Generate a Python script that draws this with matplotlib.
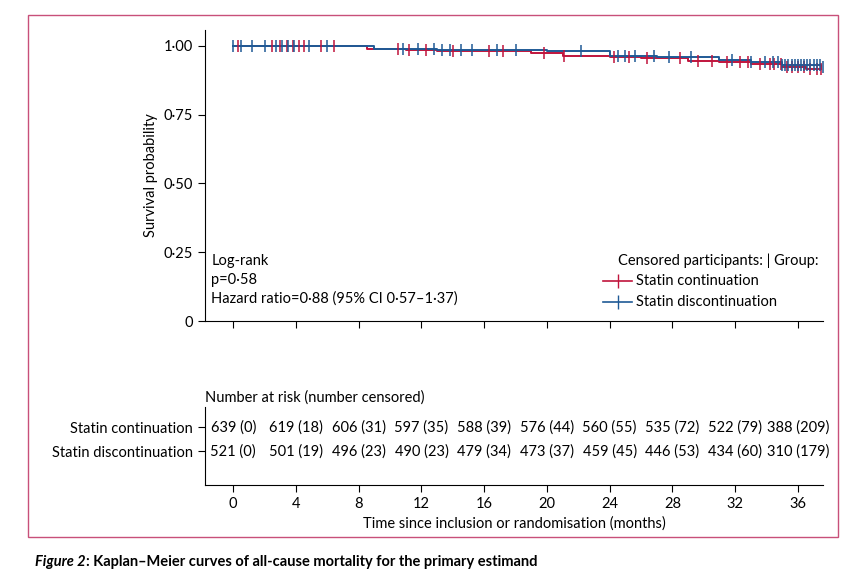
import matplotlib.pyplot as plt
from matplotlib.patches import Rectangle

plt.rcParams['font.family'] = ['Lato', 'DejaVu Sans']
plt.rcParams['font.size'] = 10.5

# survival steps (time, survival)
cont_t = [0, 8.5, 11, 13, 19, 21, 24, 26, 29, 31, 33, 35, 36.5, 37.5]
cont_s = [1.0, 0.99, 0.985, 0.98, 0.975, 0.965, 0.96, 0.955, 0.945, 0.94, 0.935, 0.925, 0.915, 0.915]
disc_t = [0, 9, 13, 20, 24, 27, 31, 33, 35, 37.5]
disc_s = [1.0, 0.99, 0.985, 0.98, 0.965, 0.96, 0.95, 0.94, 0.93, 0.925]

# censoring times
cont_cens = [0.3, 2.5, 3.0, 3.4, 3.8, 4.2, 4.5, 5.6, 6.4, 10.5, 11.2, 12.3, 14.0, 16.3, 17.2, 19.8,
             21.1, 24.3, 25.2, 26.4, 28.5, 29.6, 30.5, 31.5, 32.3, 32.8, 33.6, 34.2, 34.5, 34.9,
             35.3, 35.6, 36.0, 36.4, 36.8, 37.2, 37.5]
disc_cens = [0.0, 0.5, 1.2, 2.0, 2.7, 3.1, 3.5, 3.9, 4.8, 6.0, 10.8, 11.8, 12.8, 13.3, 13.8, 14.5,
             15.2, 16.8, 18.0, 22.2, 24.5, 25.0, 25.6, 26.8, 27.8, 29.2, 31.8, 33.0, 33.9, 34.4,
             34.7, 35.0, 35.2, 35.4, 35.6, 35.8, 36.0, 36.2, 36.4, 36.6, 36.8, 37.0, 37.2, 37.4, 37.6]

months = [0, 4, 8, 12, 16, 20, 24, 28, 32, 36]
risk_cont = ['639 (0)', '619 (18)', '606 (31)', '597 (35)', '588 (39)', '576 (44)', '560 (55)',
             '535 (72)', '522 (79)', '388 (209)']
risk_disc = ['521 (0)', '501 (19)', '496 (23)', '490 (23)', '479 (34)', '473 (37)', '459 (45)',
             '446 (53)', '434 (60)', '310 (179)']

red = '#c0143c'
blue = '#1f5a96'

def surv_at(ts, ss, t):
    v = ss[0]
    for a, b in zip(ts, ss):
        if a <= t:
            v = b
    return v

fig = plt.figure(figsize=(8.62, 5.8), dpi=100)
fig.patches.append(Rectangle((28/862, 1-537/580), 810/862, 522/580, transform=fig.transFigure,
                             fill=False, edgecolor='#c8507a', linewidth=1))

ax = fig.add_axes([205/862, 1-321/580, 618/862, 291/580])
ax.step(cont_t, cont_s, where='post', color=red, lw=1.4)
ax.step(disc_t, disc_s, where='post', color=blue, lw=1.4)
ax.plot(cont_cens, [surv_at(cont_t, cont_s, t) for t in cont_cens], '|', color=red, ms=8, mew=1.1)
ax.plot(disc_cens, [surv_at(disc_t, disc_s, t) for t in disc_cens], '|', color=blue, ms=8, mew=1.1)
ax.set_xlim(-1.8, 37.6)
ax.set_ylim(0, 1.058)
ax.set_yticks([0, 0.25, 0.5, 0.75, 1.0])
ax.set_yticklabels(['0', '0·25', '0·50', '0·75', '1·00'])
ax.set_xticks(months)
ax.set_xticklabels([])
ax.tick_params(direction='out', length=5)
for s in ['top', 'right']:
    ax.spines[s].set_visible(False)
ax.set_ylabel('Survival probability')
ax.text(-1.4, 0.245, 'Log-rank\np=0·58\nHazard ratio=0·88 (95% CI 0·57–1·37)', va='top', linespacing=1.45)
ax.text(37.3, 0.245, 'Censored participants: | Group:', ha='right', va='top')
ax.plot([23.6, 25.4], [0.145, 0.145], color=red, lw=1.2)
ax.plot([24.5], [0.145], '|', color=red, ms=10)
ax.plot([23.6, 25.4], [0.068, 0.068], color=blue, lw=1.2)
ax.plot([24.5], [0.068], '|', color=blue, ms=10)
ax.text(25.7, 0.145, 'Statin continuation', va='center')
ax.text(25.7, 0.068, 'Statin discontinuation', va='center')

ax2 = fig.add_axes([205/862, 1-485/580, 618/862, 78/580])
ax2.set_xlim(-1.8, 37.6)
ax2.set_ylim(0, 1)
for m, a, b in zip(months, risk_cont, risk_disc):
    ax2.text(m, 0.74, a, ha='center', va='center')
    ax2.text(m, 0.43, b, ha='center', va='center')
ax2.set_yticks([0.74, 0.43])
ax2.set_yticklabels(['Statin continuation', 'Statin discontinuation'])
ax2.set_xticks(months)
ax2.tick_params(direction='out', length=5)
for s in ['top', 'right']:
    ax2.spines[s].set_visible(False)
ax2.set_xlabel('Time since inclusion or randomisation (months)')
ax2.set_title('Number at risk (number censored)', loc='left', fontsize=10.5, pad=4)

cap = fig.text(35/862, 1-562/580, 'Figure 2', va='center', fontstyle='italic', fontweight='bold')
fig.text(0, 0, ': Kaplan–Meier curves of all-cause mortality for the primary estimand',
         fontweight='bold', va='center', ha='left',
         transform=cap.get_transform()).set_position((35/862, 1-562/580))
fig.canvas.draw()
bb = cap.get_window_extent().transformed(fig.transFigure.inverted())
fig.texts[-1].set_position((bb.x1, 1-562/580))

fig.savefig('out.png', dpi=100)
